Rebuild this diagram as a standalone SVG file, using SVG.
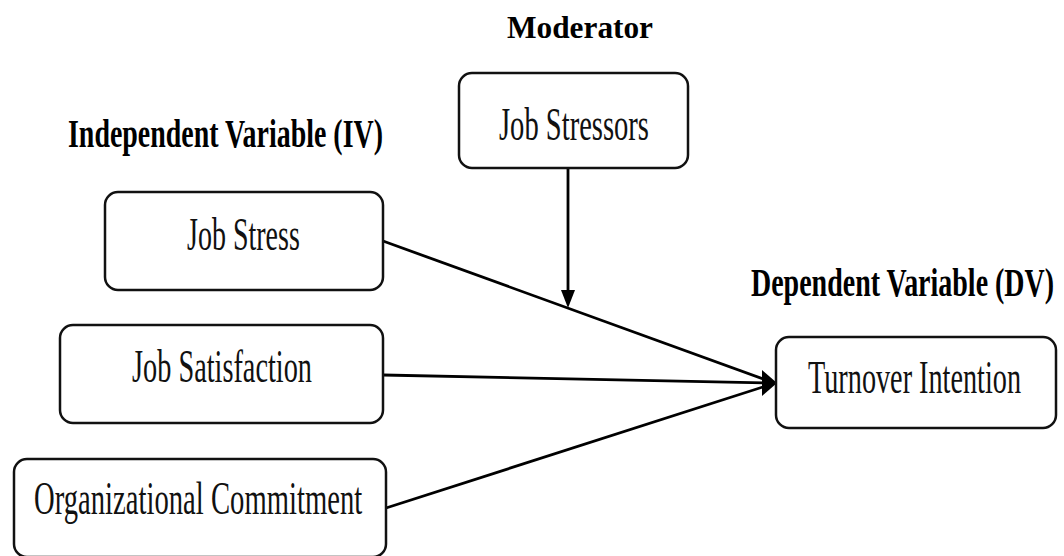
<svg xmlns="http://www.w3.org/2000/svg" width="1064" height="556" viewBox="0 0 1064 556">
<style>
.box{fill:#fff;stroke:#111;stroke-width:2.5}
.lbl{font-family:"Liberation Serif","Times New Roman",serif;font-size:47px;fill:#111}
.hd{font-family:"Liberation Serif","Times New Roman",serif;font-weight:bold;fill:#000}
.ln{stroke:#000;stroke-width:2.8;fill:none}
.ah{fill:#000}
</style>
<rect width="1064" height="556" fill="#fff"/>
<g id="headings">
<text class="hd" x="507" y="38" font-size="31" textLength="146" lengthAdjust="spacingAndGlyphs">Moderator</text>
<text class="hd" transform="translate(68,147) scale(0.7,1)" font-size="40" textLength="450" lengthAdjust="spacingAndGlyphs">Independent Variable (IV)</text>
<text class="hd" transform="translate(751,296) scale(0.7,1)" font-size="40" textLength="433" lengthAdjust="spacingAndGlyphs">Dependent Variable (DV)</text>
</g>
<g id="connectors">
<line class="ln" x1="568" y1="168" x2="568" y2="292"/>
<polygon class="ah" points="561,290 575,290 568,308"/>
<line class="ln" x1="383" y1="241" x2="766" y2="380"/>
<line class="ln" x1="383" y1="375" x2="766" y2="383"/>
<line class="ln" x1="386" y1="508" x2="766" y2="386"/>
<polygon class="ah" points="762,370 777,383 762,396"/>
</g>
<g id="job-stressors">
<rect class="box" x="459" y="73" width="229" height="95" rx="13"/>
<text class="lbl" transform="translate(499,140) scale(0.6,1)" textLength="250" lengthAdjust="spacingAndGlyphs">Job Stressors</text>
</g>
<g id="job-stress">
<rect class="box" x="105" y="192" width="278" height="98" rx="13"/>
<text class="lbl" transform="translate(187,250) scale(0.6,1)" textLength="188" lengthAdjust="spacingAndGlyphs">Job Stress</text>
</g>
<g id="job-satisfaction">
<rect class="box" x="60" y="325" width="323" height="98" rx="13"/>
<text class="lbl" transform="translate(132,382) scale(0.6,1)" textLength="300" lengthAdjust="spacingAndGlyphs">Job Satisfaction</text>
</g>
<g id="organizational-commitment">
<rect class="box" x="14" y="459" width="372" height="98" rx="13"/>
<text class="lbl" transform="translate(34,514) scale(0.6,1)" textLength="547" lengthAdjust="spacingAndGlyphs">Organizational Commitment</text>
</g>
<g id="turnover-intention">
<rect class="box" x="776" y="337" width="280" height="91" rx="13"/>
<text class="lbl" transform="translate(808,393) scale(0.6,1)" textLength="355" lengthAdjust="spacingAndGlyphs">Turnover Intention</text>
</g>
</svg>
